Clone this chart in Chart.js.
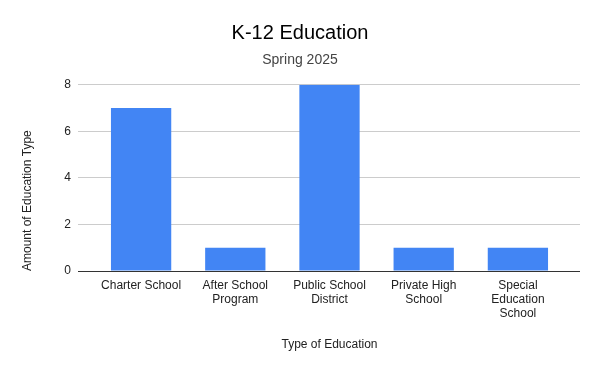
<!DOCTYPE html>
<html>
<head>
<meta charset="utf-8">
<script src="https://cdn.jsdelivr.net/npm/chart.js@4"></script>
<style>
  body { margin: 0; background: #fff; }
  #chart { display: block; }
</style>
</head>
<body>
<canvas id="chart" width="600" height="371"></canvas>
<script>
// chart data
const categories = [
    ['Charter School'],
    ['After School', 'Program'],
    ['Public School', 'District'],
    ['Private High', 'School'],
    ['Special', 'Education', 'School']
];
const amounts = [7, 1, 8, 1, 1];
const yTicks = [0, 2, 4, 6, 8];

const font = "'Liberation Sans', Arial, sans-serif";
const gridColor = function(ctx) {
    return ctx.tick && ctx.tick.value === 0 ? '#333333' : '#cccccc';
};

document.addEventListener('DOMContentLoaded', function() {
    const canvas = document.getElementById('chart');
    new Chart(canvas, {
        type: 'bar',
        data: {
            labels: categories,
            datasets: [{
                label: 'Amount',
                data: amounts,
                backgroundColor: '#4285f4',
                borderWidth: 0,
                categoryPercentage: 0.8,
                barPercentage: 0.8
            }]
        },
        options: {
            responsive: false,
            animation: false,
            layout: { padding: { left: 20, right: 20, top: 0, bottom: 19 } },
            plugins: {
                legend: { display: false },
                tooltip: { enabled: false },
                title: {
                    display: true,
                    text: 'K-12 Education',
                    color: '#000000',
                    font: { family: font, size: 20, weight: 'normal' },
                    padding: { top: 21, bottom: 7 }
                },
                subtitle: {
                    display: true,
                    text: 'Spring 2025',
                    color: '#444444',
                    font: { family: font, size: 14, weight: 'normal' },
                    padding: { top: 0, bottom: 16 }
                }
            },
            scales: {
                x: {
                    afterFit: function(scale) {
                        scale.height = 81;
                    },
                    grid: { display: false, drawTicks: false, tickLength: 0 },
                    border: { display: false },
                    ticks: {
                        color: '#222222',
                        font: { family: font, size: 12, lineHeight: 14 / 12 },
                        padding: 8,
                        maxRotation: 0,
                        autoSkip: false
                    },
                    title: {
                        display: true,
                        text: 'Type of Education',
                        color: '#222222',
                        font: { family: font, size: 12 },
                        padding: { top: 18, bottom: 0 }
                    }
                },
                y: {
                    min: 0,
                    max: 8,
                    afterBuildTicks: function(scale) {
                        scale.ticks = yTicks.map(v => ({ value: v }));
                    },
                    afterFit: function(scale) {
                        scale.width = 94 - 20;
                    },
                    border: { display: false },
                    grid: {
                        color: gridColor,
                        tickColor: gridColor,
                        drawTicks: true,
                        tickLength: 16
                    },
                    ticks: {
                        color: '#222222',
                        font: { family: font, size: 12 },
                        padding: 7
                    },
                    title: {
                        display: true,
                        text: 'Amount of Education Type',
                        align: 'start',
                        color: '#222222',
                        font: { family: font, size: 12 },
                        padding: { top: 0, bottom: 0 }
                    }
                },
                y2: {
                    position: 'right',
                    min: 0,
                    max: 8,
                    afterBuildTicks: function(scale) {
                        scale.ticks = yTicks.map(v => ({ value: v }));
                    },
                    afterFit: function(scale) {
                        scale.width = 15;
                    },
                    border: { display: false },
                    grid: {
                        drawOnChartArea: false,
                        tickColor: gridColor,
                        drawTicks: true,
                        tickLength: 15
                    },
                    ticks: { display: false }
                }
            }
        }
    });
});
</script>
</body>
</html>
